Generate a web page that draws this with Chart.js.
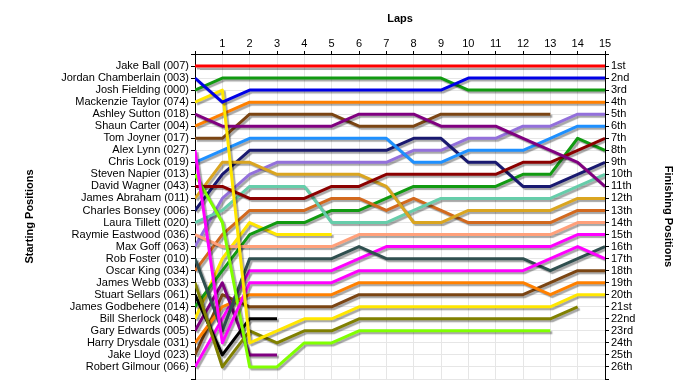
<!DOCTYPE html>
<html>
<head>
<meta charset="utf-8">
<title>Lap chart</title>
<script src="https://cdn.jsdelivr.net/npm/chart.js@4.4.1/dist/chart.umd.min.js"></script>
<style>
  html, body { margin: 0; padding: 0; background: #fff; }
  #wrap { width: 700px; height: 390px; position: relative; }
</style>
</head>
<body>
<div id="wrap"><canvas id="lapChart"></canvas></div>
<script>
// lap numbers, 0 = grid
const laps = [0, 1, 2, 3, 4, 5, 6, 7, 8, 9, 10, 11, 12, 13, 14, 15];

// drivers in starting order
const drivers = [
  'Jake Ball (007)', 'Jordan Chamberlain (003)', 'Josh Fielding (000)', 'Mackenzie Taylor (074)',
  'Ashley Sutton (018)', 'Shaun Carter (004)', 'Tom Joyner (017)', 'Alex Lynn (027)',
  'Chris Lock (019)', 'Steven Napier (013)', 'David Wagner (043)', 'James Abraham (011)',
  'Charles Bonsey (006)', 'Laura Tillett (020)', 'Raymie Eastwood (036)', 'Max Goff (063)',
  'Rob Foster (010)', 'Oscar King (034)', 'James Webb (033)', 'Stuart Sellars (061)',
  'James Godbehere (014)', 'Bill Sherlock (048)', 'Gary Edwards (005)', 'Harry Drysdale (031)',
  'Jake Lloyd (023)', 'Robert Gilmour (066)'
];

const finishLabels = [
  '1st', '2nd', '3rd', '4th', '5th', '6th', '7th', '8th', '9th', '10th', '11th', '12th', '13th',
  '14th', '15th', '16th', '17th', '18th', '19th', '20th', '21st', '22nd', '23rd', '24th', '25th', '26th'
];

// position of each driver at the end of every lap (null = retired)
const _ = null;
const lapPositions = [
  [1, 1, 1, 1, 1, 1, 1, 1, 1, 1, 1, 1, 1, 1, 1, 1],
  [2, 4, 3, 3, 3, 3, 3, 3, 3, 3, 2, 2, 2, 2, 2, 2],
  [3, 2, 2, 2, 2, 2, 2, 2, 2, 2, 3, 3, 3, 3, 3, 3],
  [4, 3, 24, 23, 22, 22, 21, 21, 21, 21, 21, 21, 21, 21, 20, 20],
  [5, 6, 6, 6, 6, 6, 5, 5, 5, 6, 6, 6, 7, 8, 9, 11],
  [6, 5, 4, 4, 4, 4, 4, 4, 4, 4, 4, 4, 4, 4, 4, 4],
  [7, 7, 5, 5, 5, 5, 6, 6, 6, 5, 5, 5, 5, 5, _, _],
  [8, 24, 19, 19, 19, 19, 18, 18, 18, 18, 18, 18, 18, 17, 16, 17],
  [9, 8, 7, 7, 7, 7, 7, 7, 9, 9, 8, 8, 8, 7, 6, 6],
  [10, 14, 26, 26, 24, 24, 23, 23, 23, 23, 23, 23, 23, 23, _, _],
  [11, 11, 12, 12, 12, 11, 11, 10, 10, 10, 10, 10, 9, 9, 8, 7],
  [12, 9, 9, 10, 10, 10, 10, 11, 14, 14, 13, 13, 13, 13, 12, 12],
  [13, 10, 8, 8, 8, 8, 8, 8, 7, 7, 9, 9, 11, 11, 10, 9],
  [14, 13, 11, 11, 11, 14, 14, 14, 13, 12, 12, 12, 12, 12, 11, 10],
  [15, 16, 16, 16, 16, 16, 15, 15, 15, 15, 15, 15, 15, 15, 14, 14],
  [16, 12, 10, 9, 9, 9, 9, 9, 8, 8, 7, 7, 6, 6, 5, 5],
  [17, 23, 17, 17, 17, 17, 16, 17, 17, 17, 17, 17, 17, 18, 17, 16],
  [18, 15, 13, 13, 13, 12, 12, 13, 12, 13, 14, 14, 14, 14, 13, 13],
  [19, 26, 23, 24, 23, 23, 22, 22, 22, 22, 22, 22, 22, 22, 21, _],
  [20, 25, 22, 22, _, _, _, _, _, _, _, _, _, _, _, _],
  [21, 18, 15, 14, 14, 13, 13, 12, 11, 11, 11, 11, 10, 10, 7, 8],
  [22, 17, 14, 15, 15, 15, _, _, _, _, _, _, _, _, _, _],
  [23, 19, 25, 25, _, _, _, _, _, _, _, _, _, _, _, _],
  [24, 21, 20, 20, 20, 20, 19, 19, 19, 19, 19, 19, 19, 20, 19, 19],
  [25, 20, 21, 21, 21, 21, 20, 20, 20, 20, 20, 20, 20, 19, 18, 18],
  [26, 22, 18, 18, 18, 18, 17, 16, 16, 16, 16, 16, 16, 16, 15, 15]
];

const lineColors = [
  '#ff0000', '#0000e6', '#119a11', '#ffe600', '#800080', '#ff8000', '#7b4513', '#ff00ff',
  '#1e90ff', '#80ff00', '#8b0000', '#daa520', '#191970', '#66cdaa', '#ffa07a', '#9370db',
  '#2f4f4f', '#d2691e', '#808000', '#000000', '#119a11', '#ffe600', '#800080', '#ff8000',
  '#7b4513', '#ff00ff'
];

const FONT = { family: "'Liberation Sans', Arial, sans-serif", size: 11 };
const GRID = '#e6e6e6';

const shadowPlugin = {
  id: 'lineShadow',
  beforeDatasetsDraw(chart) {
    const ctx = chart.ctx;
    ctx.save();
    ctx.shadowColor = 'rgba(0,0,0,0.35)';
    ctx.shadowOffsetX = 2;
    ctx.shadowOffsetY = 2;
    ctx.shadowBlur = 1;
  },
  afterDatasetsDraw(chart) {
    chart.ctx.restore();
  }
};

const datasets = drivers.map((name, i) => ({
  label: name,
  data: laps.map((lap, j) => ({ x: lap, y: lapPositions[i][j] })),
  borderColor: lineColors[i],
  backgroundColor: lineColors[i],
  borderWidth: 3,
  borderJoinStyle: 'round',
  pointRadius: 0,
  tension: 0,
  spanGaps: false,
  fill: false
}));

new Chart(document.getElementById('lapChart'), {
  type: 'line',
  data: { datasets },
  plugins: [shadowPlugin],
  options: {
    responsive: true,
    maintainAspectRatio: false,
    animation: false,
    layout: { padding: { top: 0, left: 0, right: 0, bottom: 11 } },
    plugins: {
      legend: { display: false },
      tooltip: { enabled: false }
    },
    scales: {
      x: {
        type: 'linear',
        position: 'top',
        min: 0,
        max: 15,
        afterFit: (scale) => { scale.height = 54; },
        title: {
          display: true,
          text: 'Laps',
          color: '#000',
          font: { ...FONT, weight: 'bold' },
          padding: { top: 12, bottom: 0 }
        },
        ticks: {
          stepSize: 1,
          autoSkip: false,
          maxRotation: 0,
          color: '#000',
          font: FONT,
          padding: 0,
          callback: (v) => (v === 0 ? '' : v)
        },
        grid: { color: GRID, tickColor: '#000', tickLength: 3 },
        border: { color: '#000', width: 1 }
      },
      y: {
        type: 'linear',
        position: 'left',
        reverse: true,
        min: 0,
        max: 27,
        afterFit: (scale) => { scale.width = 195; },
        title: {
          display: true,
          text: 'Starting Positions',
          color: '#000',
          font: { ...FONT, weight: 'bold' },
          padding: { top: 23, bottom: 0 }
        },
        ticks: {
          stepSize: 1,
          autoSkip: false,
          color: '#000',
          font: FONT,
          padding: 2,
          callback: (v) => drivers[v - 1] || ''
        },
        grid: { color: GRID, tickColor: '#000', tickLength: 4 },
        border: { color: '#000', width: 1 }
      },
      y2: {
        type: 'linear',
        position: 'right',
        reverse: true,
        min: 0,
        max: 27,
        afterFit: (scale) => { scale.width = 95; },
        title: {
          display: true,
          text: 'Finishing Positions',
          color: '#000',
          font: { ...FONT, weight: 'bold' },
          padding: { top: 25, bottom: 0 }
        },
        ticks: {
          stepSize: 1,
          autoSkip: false,
          color: '#000',
          font: FONT,
          padding: 2,
          callback: (v) => finishLabels[v - 1] || ''
        },
        grid: { drawOnChartArea: false, tickColor: '#000', tickLength: 4 },
        border: { color: '#000', width: 1 }
      }
    }
  }
});
</script>
</body>
</html>
